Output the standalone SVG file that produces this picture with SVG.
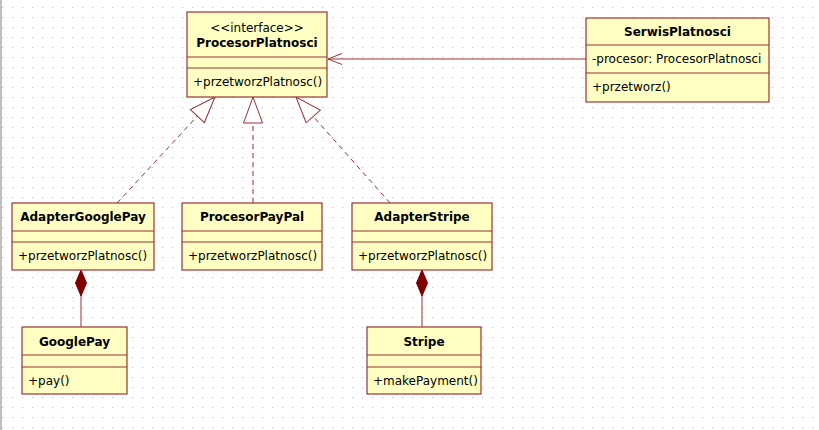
<svg xmlns="http://www.w3.org/2000/svg" width="819" height="430" viewBox="0 0 819 430">
<defs>
<pattern id="grid" x="0" y="0" width="10" height="10" patternUnits="userSpaceOnUse">
<rect x="2" y="7" width="1.2" height="1.2" fill="#c4c4c4"/>
</pattern>
<marker id="realize" markerUnits="userSpaceOnUse" viewBox="0 0 28 22" refX="27" refY="11" markerWidth="28" markerHeight="22" orient="auto">
<path d="M27,11 L1,1.5 L1,20.5 Z" fill="#ffffff" stroke="#993333" stroke-width="1" stroke-dasharray="none"/>
</marker>
<marker id="open" markerUnits="userSpaceOnUse" viewBox="0 0 16 14" refX="15" refY="7" markerWidth="16" markerHeight="14" orient="auto">
<path d="M1,1.5 L15,7 L1,12.5" fill="none" stroke="#993333" stroke-width="1"/>
</marker>
<marker id="diamond" markerUnits="userSpaceOnUse" viewBox="0 0 28 14" refX="27" refY="7" markerWidth="28" markerHeight="14" orient="auto">
<path d="M27,7 L14,1.5 L1,7 L14,12.5 Z" fill="#800000" stroke="#800000" stroke-width="1"/>
</marker>
</defs>
<style>
.box{fill:#ffffc4;stroke:#993333;stroke-width:1.2}
.sep{stroke:#993333;stroke-width:1.2}
.t{font-family:"DejaVu Sans","Liberation Sans",sans-serif;font-size:12px;fill:#000}
.b{font-weight:bold;text-anchor:middle}
.c{text-anchor:middle}
.dash{fill:none;stroke:#993333;stroke-width:1;stroke-dasharray:5,4}
.line{fill:none;stroke:#993333;stroke-width:1}
</style>
<rect width="819" height="430" fill="#ffffff"/>
<rect width="819" height="430" fill="url(#grid)"/>
<rect x="0" y="0" width="2" height="430" fill="#c0c0c0"/>

<g id="connectors">
<path class="dash" d="M117,203 L215,97" marker-end="url(#realize)"/>
<path class="dash" d="M253,203 L253,97" marker-end="url(#realize)"/>
<path class="dash" d="M390,203 L296,97" marker-end="url(#realize)"/>
<path class="line" d="M586,59 L328,59" marker-end="url(#open)"/>
<path class="line" d="M81,327 L81,270" marker-end="url(#diamond)"/>
<path class="line" d="M422,327 L422,270" marker-end="url(#diamond)"/>
</g>

<g id="ProcesorPlatnosci">
<rect class="box" x="187" y="12" width="140" height="85"/>
<line class="sep" x1="187" y1="57" x2="327" y2="57"/>
<line class="sep" x1="187" y1="68" x2="327" y2="68"/>
<text class="t c" x="257" y="32">&lt;&lt;interface&gt;&gt;</text>
<text class="t b" x="257" y="47">ProcesorPlatnosci</text>
<text class="t" x="193" y="86">+przetworzPlatnosc()</text>
</g>

<g id="SerwisPlatnosci">
<rect class="box" x="586" y="18" width="183" height="84"/>
<line class="sep" x1="586" y1="45" x2="769" y2="45"/>
<line class="sep" x1="586" y1="73" x2="769" y2="73"/>
<text class="t b" x="677.5" y="36">SerwisPlatnosci</text>
<text class="t" x="592" y="63">-procesor: ProcesorPlatnosci</text>
<text class="t" x="592" y="91">+przetworz()</text>
</g>

<g id="AdapterGooglePay">
<rect class="box" x="12" y="203" width="142" height="67"/>
<line class="sep" x1="12" y1="231" x2="154" y2="231"/>
<line class="sep" x1="12" y1="242" x2="154" y2="242"/>
<text class="t b" x="83" y="221">AdapterGooglePay</text>
<text class="t" x="18" y="260">+przetworzPlatnosc()</text>
</g>

<g id="ProcesorPayPal">
<rect class="box" x="182" y="203" width="140" height="67"/>
<line class="sep" x1="182" y1="231" x2="322" y2="231"/>
<line class="sep" x1="182" y1="242" x2="322" y2="242"/>
<text class="t b" x="252" y="221">ProcesorPayPal</text>
<text class="t" x="188" y="260">+przetworzPlatnosc()</text>
</g>

<g id="AdapterStripe">
<rect class="box" x="352" y="203" width="140" height="67"/>
<line class="sep" x1="352" y1="231" x2="492" y2="231"/>
<line class="sep" x1="352" y1="242" x2="492" y2="242"/>
<text class="t b" x="422" y="221">AdapterStripe</text>
<text class="t" x="358" y="260">+przetworzPlatnosc()</text>
</g>

<g id="GooglePay">
<rect class="box" x="22" y="327" width="105" height="67"/>
<line class="sep" x1="22" y1="355" x2="127" y2="355"/>
<line class="sep" x1="22" y1="367" x2="127" y2="367"/>
<text class="t b" x="74.5" y="346">GooglePay</text>
<text class="t" x="28" y="385">+pay()</text>
</g>

<g id="Stripe">
<rect class="box" x="367" y="327" width="114" height="67"/>
<line class="sep" x1="367" y1="355" x2="481" y2="355"/>
<line class="sep" x1="367" y1="367" x2="481" y2="367"/>
<text class="t b" x="424" y="346">Stripe</text>
<text class="t" x="373" y="385">+makePayment()</text>
</g>
</svg>
